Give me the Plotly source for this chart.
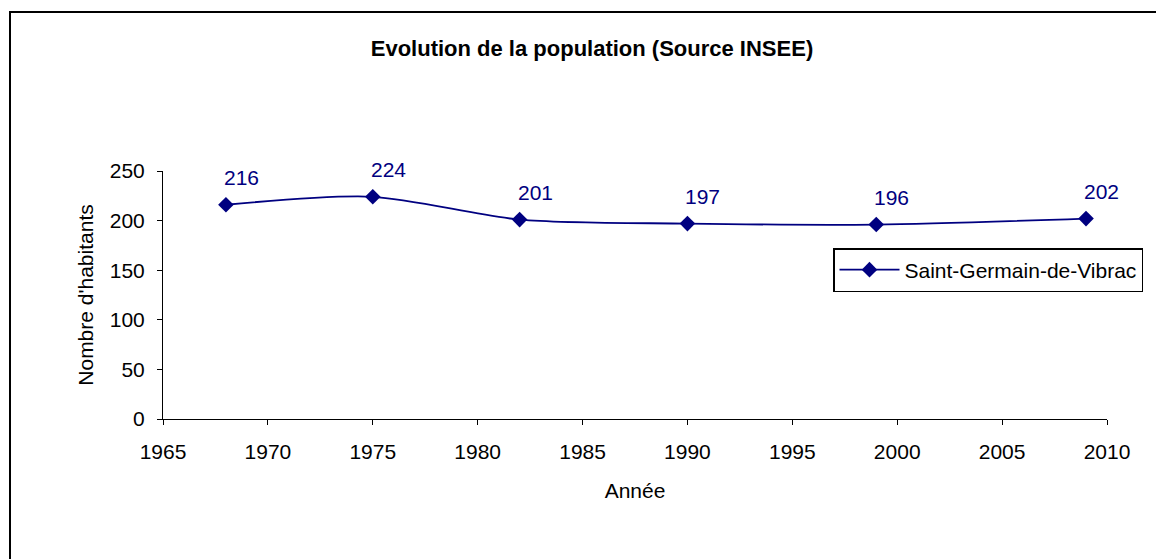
import plotly.graph_objects as go

years = [1968, 1975, 1982, 1990, 1999, 2009]
population = [216, 224, 201, 197, 196, 202]
series_name = "Saint-Germain-de-Vibrac"
title_text = "<b>Evolution de la population (Source INSEE)</b>"
x_title = "Année"
y_title = "Nombre d'habitants"

NAVY = "#000080"
FONT = "Liberation Sans, Arial, sans-serif"
FS = 21

# page body has an 8px margin: work in target (screen) coords and shift by 8
OFF = 8
W, H = 1164 - OFF, 559 - OFF
PL, PR, PT, PB = 163, 1107, 171, 419   # plot area in screen coords
L, R = PL - OFF, W - (PR - OFF)
T, B = PT - OFF, H - (PB - OFF)
pw, ph = W - L - R, H - T - B

def px(x):
    return (x - OFF - L) / pw

def py(y):
    return (PB - y) / ph

fig = go.Figure()
fig.add_trace(go.Scatter(
    x=years, y=population, name=series_name,
    mode="lines+markers",
    line=dict(color=NAVY, width=1.8, shape="spline", smoothing=0.8),
    marker=dict(symbol="diamond", size=12, color=NAVY),
))

for xv, yv in zip(years, population):
    fig.add_annotation(x=xv, y=yv, text=str(yv), showarrow=False,
                       xanchor="left", yanchor="bottom", xshift=-4, yshift=14,
                       font=dict(family=FONT, size=FS, color=NAVY))

fig.add_shape(type="rect", xref="paper", yref="paper",
              x0=px(10), x1=px(1190), y0=py(600), y1=py(12),
              line=dict(color="black", width=2), fillcolor="rgba(0,0,0,0)", layer="below")

fig.update_layout(
    width=W, height=H,
    margin=dict(l=L, r=R, t=T, b=B, pad=0),
    paper_bgcolor="white", plot_bgcolor="white",
    font=dict(family=FONT, size=FS, color="black"),
    title=dict(text=title_text, x=(592 - OFF) / W, xanchor="center", xref="container",
               y=1 - (48 - OFF) / H, yanchor="middle", yref="container",
               font=dict(family=FONT, size=22, color="black")),
    showlegend=True,
    legend=dict(x=px(1143), xanchor="right", y=py(248), yanchor="top",
                bordercolor="black", borderwidth=1.5, bgcolor="white",
                font=dict(family=FONT, size=FS, color="black"),
                itemwidth=60, tracegroupgap=0),
    xaxis=dict(range=[1965, 2010], tickmode="linear", tick0=1965, dtick=5,
               showgrid=False, zeroline=False, showline=True, linecolor="black", linewidth=1,
               ticks="outside", ticklen=5, tickcolor="black", tickwidth=1,
               ticklabelstandoff=9,
               title=dict(text=x_title, standoff=21, font=dict(family=FONT, size=FS))),
    yaxis=dict(range=[0, 250], tickmode="linear", tick0=0, dtick=50,
               showgrid=False, zeroline=False, showline=True, linecolor="black", linewidth=1,
               ticks="outside", ticklen=5, tickcolor="black", tickwidth=1,
               ticklabelstandoff=8,
               title=dict(text=y_title, standoff=10, font=dict(family=FONT, size=FS))),
)

fig.write_html("out.html")
